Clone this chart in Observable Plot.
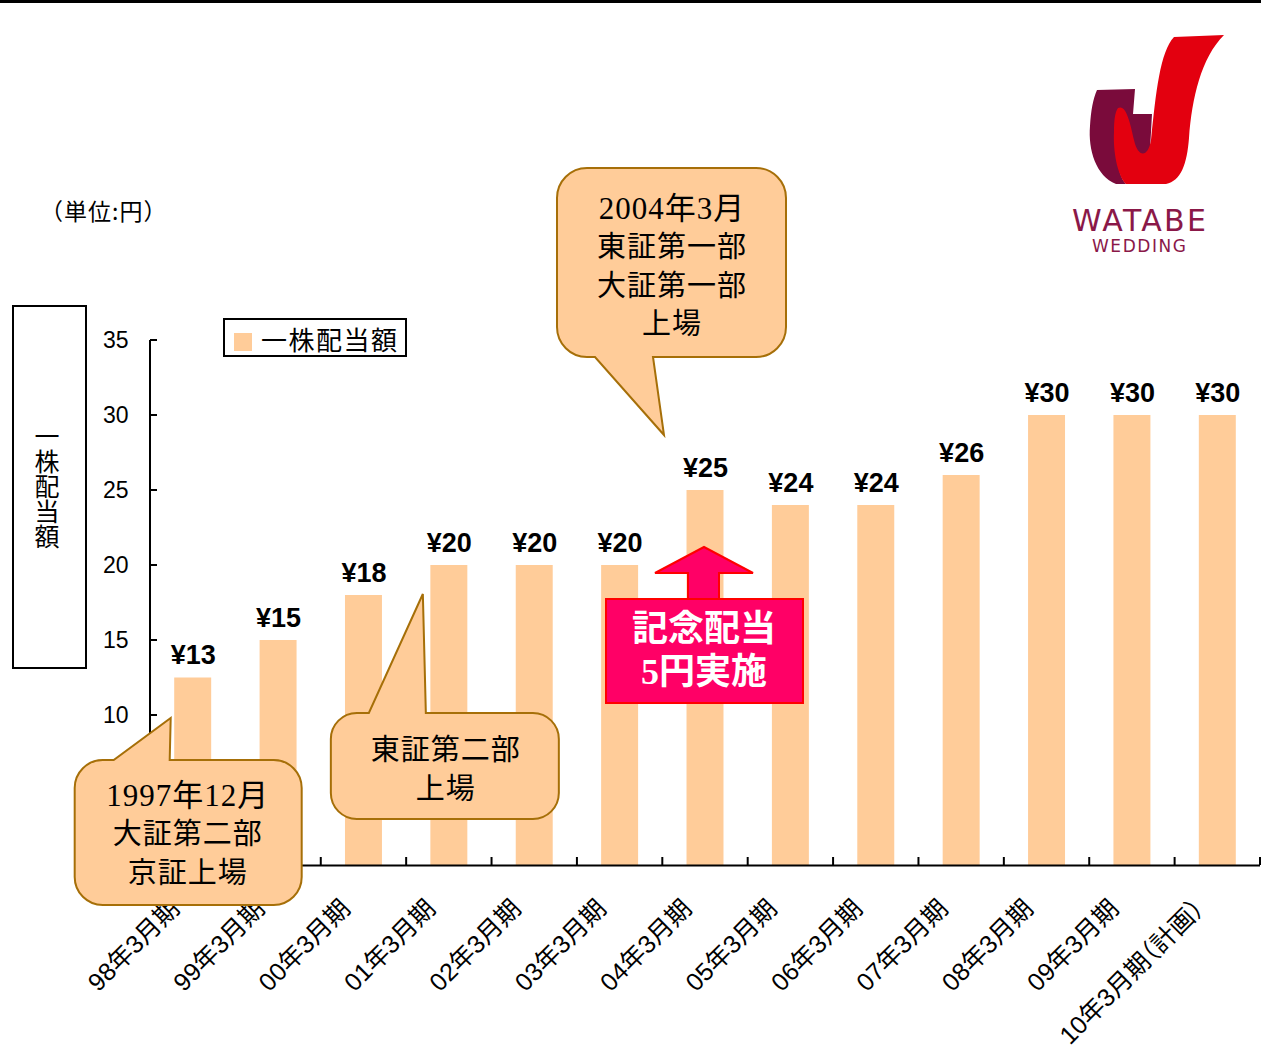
<!DOCTYPE html>
<html>
<head>
<meta charset="utf-8">
<script src="https://cdn.jsdelivr.net/npm/d3@7"></script>
<script src="https://cdn.jsdelivr.net/npm/@observablehq/plot@0.6"></script>
<style>
  html, body { margin: 0; padding: 0; background: #fff; }
  #chart { width: 1261px; height: 1045px; }
  .xlab text { font-feature-settings: "halt" 1; }
</style>
</head>
<body>
<div id="chart"></div>
<script>
// ---- data ----
const periods = ["98年3月期","99年3月期","00年3月期","01年3月期","02年3月期","03年3月期","04年3月期","05年3月期","06年3月期","07年3月期","08年3月期","09年3月期","10年3月期（計画）"];
const dividends = [12.5, 15, 18, 20, 20, 20, 25, 24, 24, 26, 30, 30, 30];
const valueLabels = ["¥13","¥15","¥18","¥20","¥20","¥20","¥25","¥24","¥24","¥26","¥30","¥30","¥30"];
const yTicks = [0, 5, 10, 15, 20, 25, 30, 35];
const yTickLabels = [10, 15, 20, 25, 30, 35]; // 0 and 5 sit behind the first callout
const seriesName = "一株配当額";
const axisTitle = "一株配当額";
const unitNote = "（単位:円）";
const note1Period = "98年3月期";
const note1Lines = ["1997年12月", "大証第二部", "京証上場"];
const note2Period = "01年3月期";
const note2Lines = ["東証第二部", "上場"];
const note3Period = "04年3月期";
const note3Lines = ["2004年3月", "東証第一部", "大証第一部", "上場"];
const bonusPeriod = "04年3月期";
const bonusLines = ["記念配当", "5円実施"];
const logoLines = ["WATABE", "WEDDING"];

const rows = periods.map((p, i) => ({period: p, value: dividends[i], label: valueLabels[i]}));

const BAR = "#FFCC99";
const CALLOUT_FILL = "#FFCC99";
const CALLOUT_STROKE = "#A66F08";
const SANS = "'Liberation Sans','Noto Sans CJK JP',sans-serif";
const CJK = "'Noto Sans CJK JP',sans-serif";
const SERIF = "'Liberation Serif','Noto Sans CJK JP',serif";

function calloutPath(x0, y0, x1, y1, r, side, b1, b2, tx, ty) {
  let p = `M${x0 + r},${y0}`;
  if (side === "top") p += `L${b1},${y0}L${tx},${ty}L${b2},${y0}`;
  p += `L${x1 - r},${y0}A${r},${r} 0 0 1 ${x1},${y0 + r}`;
  p += `L${x1},${y1 - r}A${r},${r} 0 0 1 ${x1 - r},${y1}`;
  if (side === "bottom") p += `L${b2},${y1}L${tx},${ty}L${b1},${y1}`;
  p += `L${x0 + r},${y1}A${r},${r} 0 0 1 ${x0},${y1 - r}`;
  p += `L${x0},${y0 + r}A${r},${r} 0 0 1 ${x0 + r},${y0}Z`;
  return p;
}

function overlay(index, scales, values, dimensions) {
  const x = scales.x, y = scales.y;
  const bw = x.bandwidth();
  const step = x.step ? x.step() : bw / 0.433;
  const cx = p => x(p) + bw / 2;
  const base = y(0);
  const left = dimensions.marginLeft;
  const g = d3.create("svg:g").attr("text-anchor", "start");

  // top border line
  g.append("rect").attr("x", 0).attr("y", 0).attr("width", dimensions.width).attr("height", 3).attr("fill", "#000");

  // y axis line and inward ticks
  g.append("line").attr("x1", left).attr("x2", left).attr("y1", y(35)).attr("y2", base)
    .attr("stroke", "#000").attr("stroke-width", 2);
  for (const t of yTicks) {
    g.append("line").attr("x1", left).attr("x2", left + 7).attr("y1", y(t)).attr("y2", y(t))
      .attr("stroke", "#000").attr("stroke-width", 2);
  }
  // x ticks at category boundaries
  for (const p of periods) {
    const xb = x(p) + bw + (step - bw) / 2;
    g.append("line").attr("x1", xb).attr("x2", xb).attr("y1", base).attr("y2", base - 8)
      .attr("stroke", "#000").attr("stroke-width", 2);
  }

  // unit note
  g.append("text").attr("x", 40).attr("y", 212).attr("dy", "0.35em").attr("text-anchor", "start")
    .attr("font-family", CJK).attr("font-size", 23).attr("letter-spacing", 1).text(unitNote);

  // y axis title box
  g.append("rect").attr("x", 13).attr("y", 306).attr("width", 73).attr("height", 362)
    .attr("fill", "none").attr("stroke", "#000").attr("stroke-width", 2);
  g.append("text").attr("x", 47).attr("y", 486)
    .attr("font-family", CJK).attr("font-size", 25)
    .attr("text-anchor", "middle").style("writing-mode", "vertical-rl")
    .text(axisTitle);

  // legend
  g.append("rect").attr("x", 224).attr("y", 319).attr("width", 182).attr("height", 37)
    .attr("fill", "#fff").attr("stroke", "#000").attr("stroke-width", 2);
  g.append("rect").attr("x", 234).attr("y", 333).attr("width", 18).attr("height", 18).attr("fill", BAR);
  g.append("text").attr("x", 261).attr("y", 341).attr("dy", "0.35em").attr("text-anchor", "start")
    .attr("font-family", CJK).attr("font-size", 26).attr("letter-spacing", 1.5).text(seriesName);

  // callouts
  function callout(d, lines, firstSerif, fs, lineYs, tx) {
    g.append("path").attr("d", d).attr("fill", CALLOUT_FILL).attr("stroke", CALLOUT_STROKE).attr("stroke-width", 2);
    lines.forEach((l, i) => {
      g.append("text").attr("x", tx).attr("y", lineYs[i]).attr("dy", "0.36em")
        .attr("text-anchor", "middle")
        .attr("font-family", i === 0 && firstSerif ? SERIF : CJK)
        .attr("font-size", i === 0 && firstSerif ? 31 : 29).attr("letter-spacing", 1).text(l);
    });
  }
  {
    const c = cx(note1Period);
    callout(calloutPath(c - 118, base - 105, c + 109, base + 40, 28, "top", c - 79, c - 23, c - 22, base - 147),
      note1Lines, true, 29, [base - 70, base - 31, base + 8], c - 5);
  }
  {
    const c = cx(note2Period);
    callout(calloutPath(c - 118, base - 152, c + 110, base - 46, 26, "top", c - 80, c - 23, c - 26, base - 271),
      note2Lines, false, 29, [base - 115, base - 76], c - 3);
  }
  {
    const c = cx(note3Period);
    callout(calloutPath(c - 148, base - 697, c + 81, base - 508, 30, "bottom", c - 110, c - 52, c - 41, base - 430),
      note3Lines, true, 29, [base - 657, base - 618, base - 579, base - 541], c - 33);
  }

  // commemorative dividend arrow + box
  {
    const c = cx(bonusPeriod);
    const y0 = base - 266, y1 = base - 162, hb = base - 292, tip = base - 318;
    g.append("path")
      .attr("d", `M${c - 17},${y0}L${c - 17},${hb}L${c - 50},${hb}L${c - 1},${tip}L${c + 48},${hb}L${c + 14},${hb}L${c + 14},${y0}Z`)
      .attr("fill", "#FF0066").attr("stroke", "#FF0000").attr("stroke-width", 2);
    g.append("rect").attr("x", c - 99).attr("y", y0).attr("width", 197).attr("height", y1 - y0)
      .attr("fill", "#FF0066").attr("stroke", "#FF0000").attr("stroke-width", 2);
    bonusLines.forEach((l, i) => {
      g.append("text").attr("x", c - 1).attr("y", [base - 237, base - 194][i]).attr("dy", "0.36em")
        .attr("text-anchor", "middle").attr("fill", "#fff").attr("font-weight", "bold")
        .attr("font-family", i === 1 ? SERIF : CJK).attr("font-size", 36).text(l);
    });
  }

  // logo
  const logo = g.append("g");
  logo.append("path")
    .attr("d", "M1097,90 L1135,89 L1133,114 L1152,114 L1150,150 C1142,162 1132,152 1128,132 L1121,132 C1115,150 1117,174 1126,184 L1116,184 C1096,176 1088,150 1090,126 C1091,110 1093,99 1097,90 Z")
    .attr("fill", "#7A0B3B");
  logo.append("path")
    .attr("d", "M1118,108 C1126,104 1130,122 1134,140 C1138,158 1148,158 1151,140 C1156,92 1160,52 1174,37 L1224,35 C1201,58 1192,98 1189,138 C1187,164 1181,181 1166,184 L1126,184 C1117,175 1113,150 1114,132 C1114,120 1115,112 1118,108 Z")
    .attr("fill", "#E3000F");
  logo.append("text").attr("x", 1139).attr("y", 220).attr("dy", "0.36em").attr("text-anchor", "middle")
    .attr("font-family", "'DejaVu Sans',sans-serif").attr("font-size", 30).attr("fill", "#8A1848")
    .attr("textLength", 134).text(logoLines[0]);
  logo.append("text").attr("x", 1139).attr("y", 246).attr("dy", "0.36em").attr("text-anchor", "middle")
    .attr("font-family", "'DejaVu Sans',sans-serif").attr("font-size", 17).attr("fill", "#8A1848")
    .attr("textLength", 94).text(logoLines[1]);

  return g.node();
}

const chart = Plot.plot({
  width: 1261,
  height: 1045,
  marginLeft: 150,
  marginRight: 1,
  marginTop: 340,
  marginBottom: 180,
  style: {fontFamily: SANS, background: "#fff", color: "#000"},
  x: {domain: periods, paddingInner: 0.567, paddingOuter: 0.2835, round: false, axis: null},
  y: {domain: [0, 35], axis: null},
  marks: [
    Plot.barY(rows, {x: "period", y: "value", fill: BAR}),
    Plot.ruleY([0], {stroke: "#000", strokeWidth: 2}),
    Plot.axisY({ticks: yTickLabels, tickSize: 0, tickPadding: 22, fontSize: 23, label: null, tickFormat: d => String(d)}),
    Plot.text(rows, {x: "period", y: "value", text: "label", dy: -14, lineAnchor: "bottom",
      fontWeight: "bold", fontSize: 27, fontFamily: SANS}),
    Plot.text(rows, {x: "period", y: () => 0, text: "period", rotate: -45, textAnchor: "end",
      lineAnchor: "middle", dx: -18, dy: 39, fontSize: 25, fontFamily: SANS, className: "xlab"}),
    overlay
  ]
});
document.getElementById("chart").append(chart);
</script>
</body>
</html>
